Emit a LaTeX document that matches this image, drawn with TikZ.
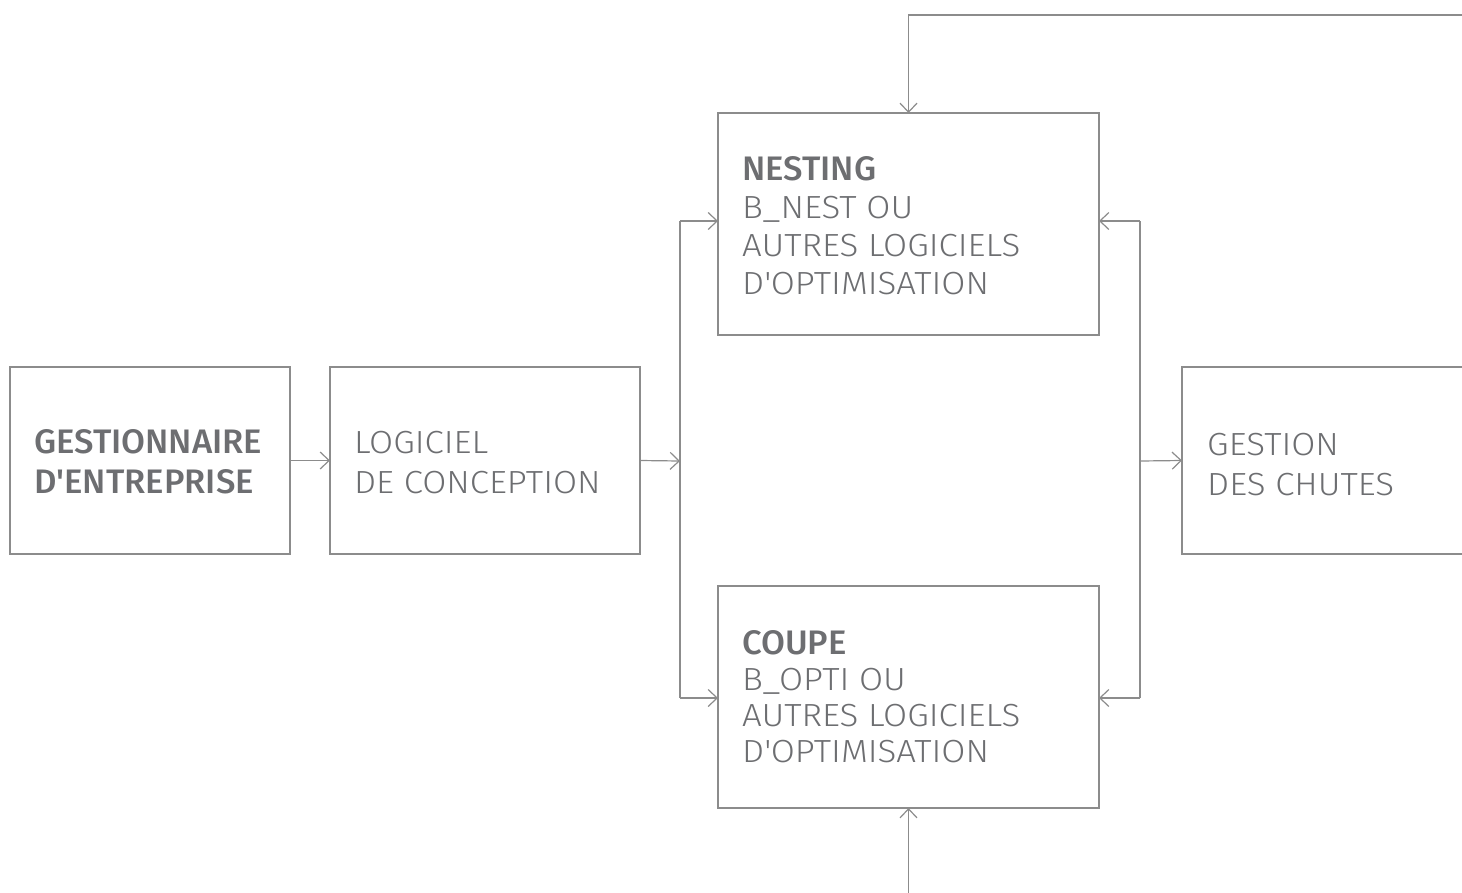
\documentclass[tikz,border=0pt]{standalone}
\usepackage{fontspec}
\setmainfont{Fira Sans}[UprightFont=* Light, BoldFont=* Medium,
  UprightFeatures={FakeStretch=1.09}, BoldFeatures={FakeStretch=1.02}]
\usetikzlibrary{arrows.meta}
\definecolor{txt}{HTML}{6D6E71}
\definecolor{ln}{HTML}{8C8C8C}
\begin{document}
\begin{tikzpicture}[x=1pt,y=-1pt,
  box/.style={draw=ln, line width=1.5pt, anchor=north west, inner sep=0pt, outer sep=0pt},
  link/.style={draw=ln, line width=1.2pt},
  conn/.style={link, -{Straight Barb[length=9pt,width=17pt,line width=1.2pt]}},
  lbl/.style={anchor=base west, align=left, text=txt, inner sep=0pt}]
\useasboundingbox (0,0) rectangle (1462,892);
\clip (0,0) rectangle (1462,892);
% boxes
\node[box, minimum width=280pt, minimum height=187pt] (ge) at (10,367) {};
\node[box, minimum width=310pt, minimum height=187pt] (lc) at (330,367) {};
\node[box, minimum width=381pt, minimum height=222pt] (nest) at (718,113) {};
\node[box, minimum width=381pt, minimum height=222pt] (coupe) at (718,586) {};
\node[box, minimum width=310pt, minimum height=187pt] (gest) at (1182,367) {};
% texts (anchored at the baseline of the last line)
\node[lbl, font=\fontsize{34}{40}\selectfont\bfseries] (tge) at (34,493) {GESTIONNAIRE\\D\textquotesingle ENTREPRISE};
\node[lbl, font=\fontsize{32}{40}\selectfont] (tlc) at (354,493) {LOGICIEL\\DE CONCEPTION};
\node[lbl, font=\fontsize{32}{38}\selectfont] (tnest) at (742,294) {{\fontsize{34}{38}\selectfont\bfseries NESTING}\\B\_NEST OU\\AUTRES LOGICIELS\\D\textquotesingle OPTIMISATION};
\node[lbl, font=\fontsize{32}{36}\selectfont] (tcoupe) at (742,762) {{\fontsize{34}{36}\selectfont\bfseries COUPE}\\B\_OPTI OU\\AUTRES LOGICIELS\\D\textquotesingle OPTIMISATION};
\node[lbl, font=\fontsize{32}{40}\selectfont] (tgest) at (1207,495) {GESTION\\DES CHUTES};
% junction coordinates
\coordinate (jl) at (680,461);
\coordinate (jlt) at (680,221);
\coordinate (jlb) at (680,698);
\coordinate (jr) at (1140,461);
\coordinate (jrt) at (1140,221);
\coordinate (jrb) at (1140,698);
\coordinate (topr) at (1470,15);
\coordinate (topl) at (908.5,15);
\coordinate (bot) at (908.5,900);
% connectors
\draw[conn] (ge.east) -- (lc.west);
\draw[conn] (lc.east) -- (jl);
\draw[link] (jlt) -- (jlb);
\draw[conn] (jlt) -- (jlt -| nest.west);
\draw[conn] (jlb) -- (jlb -| coupe.west);
\draw[link] (jrt) -- (jrb);
\draw[conn] (jrt) -- (jrt -| nest.east);
\draw[conn] (jrb) -- (jrb -| coupe.east);
\draw[conn] (jr) -- (gest.west);
\draw[conn] (topr) -- (topl) -- (nest.north);
\draw[conn] (bot) -- (coupe.south);
\end{tikzpicture}
\end{document}
